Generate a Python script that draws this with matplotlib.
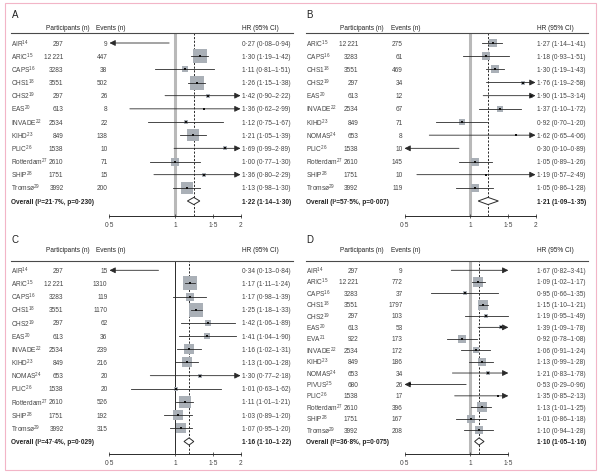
import numpy as np
import matplotlib
matplotlib.use("Agg")
import matplotlib.pyplot as plt
from matplotlib.transforms import blended_transform_factory
from matplotlib.patches import Rectangle
from matplotlib.ticker import NullLocator

# --- DANE ---
refs = {"AIR": 14, "ARIC": 15, "CAPS": 16, "CHS1": 18, "CHS2": 19, "EAS": 20,
        "EVA": 21, "INVADE": 22, "KIHD": 23, "NOMAS": 24, "PIVUS": 25,
        "PLIC": 26, "Rotterdam": 27, "SHIP": 28, "Tromsø": 29}

# A
a_studies = ["AIR", "ARIC", "CAPS", "CHS1", "CHS2", "EAS", "INVADE", "KIHD", "PLIC", "Rotterdam", "SHIP", "Tromsø"]
a_participants = [297, 12221, 3283, 3551, 297, 613, 2534, 849, 1538, 2610, 1751, 3992]
a_events = [9, 447, 38, 502, 26, 8, 22, 138, 10, 71, 15, 200]
a_hr = [0.27, 1.30, 1.11, 1.26, 1.42, 1.36, 1.12, 1.21, 1.69, 1.00, 1.36, 1.13]
a_lo = [0.08, 1.19, 0.81, 1.15, 0.90, 0.62, 0.75, 1.05, 0.99, 0.77, 0.80, 0.98]
a_hi = [0.94, 1.42, 1.51, 1.38, 2.22, 2.99, 1.67, 1.39, 2.89, 1.30, 2.29, 1.30]
a_weight = [0.1, 22, 4.7, 25, 2.1, 0.5, 3.2, 15.7, 2.1, 7.3, 1.6, 15.7]
a_overall = [1.22, 1.14, 1.30]
a_het = [21.7, 0.230]

# B
b_studies = ["ARIC", "CAPS", "CHS1", "CHS2", "EAS", "INVADE", "KIHD", "NOMAS", "PLIC", "Rotterdam", "SHIP", "Tromsø"]
b_participants = [12221, 3283, 3551, 297, 613, 2534, 849, 653, 1538, 2610, 1751, 3992]
b_events = [275, 61, 469, 34, 12, 67, 71, 8, 10, 145, 10, 119]
b_hr = [1.27, 1.18, 1.30, 1.76, 1.90, 1.37, 0.92, 1.62, 0.30, 1.05, 1.19, 1.05]
b_lo = [1.14, 0.93, 1.19, 1.19, 1.15, 1.10, 0.70, 0.65, 0.10, 0.89, 0.57, 0.86]
b_hi = [1.41, 1.51, 1.43, 2.58, 3.14, 1.72, 1.20, 4.06, 0.89, 1.26, 2.49, 1.28]
b_weight = [6.4, 6.4, 6.4, 2.1, 1.8, 4.7, 4.7, 0.4, 0.1, 8.3, 0.4, 8.3]
b_overall = [1.21, 1.09, 1.35]
b_het = [57.5, 0.007]

# C
c_studies = ["AIR", "ARIC", "CAPS", "CHS1", "CHS2", "EAS", "INVADE", "KIHD", "NOMAS", "PLIC", "Rotterdam", "SHIP", "Tromsø"]
c_participants = [297, 12221, 3283, 3551, 297, 613, 2534, 849, 653, 1538, 2610, 1751, 3992]
c_events = [15, 1310, 119, 1170, 62, 36, 239, 216, 20, 20, 526, 192, 315]
c_hr = [0.34, 1.17, 1.17, 1.25, 1.42, 1.41, 1.16, 1.13, 1.30, 1.01, 1.11, 1.03, 1.07]
c_lo = [0.13, 1.11, 0.98, 1.18, 1.06, 1.04, 1.02, 1.00, 0.77, 0.63, 1.01, 0.89, 0.95]
c_hi = [0.84, 1.24, 1.39, 1.33, 1.89, 1.90, 1.31, 1.28, 2.18, 1.62, 1.21, 1.20, 1.20]
c_weight = [0.1, 22, 8.3, 22, 4.7, 3.9, 13, 13, 1.2, 1.2, 15.7, 10.5, 10.5]
c_overall = [1.16, 1.10, 1.22]
c_het = [47.4, 0.029]

# D
d_studies = ["AIR", "ARIC", "CAPS", "CHS1", "CHS2", "EAS", "EVA", "INVADE", "KIHD", "NOMAS", "PIVUS", "PLIC", "Rotterdam", "SHIP", "Tromsø"]
d_participants = [297, 12221, 3283, 3551, 297, 613, 922, 2534, 849, 653, 680, 1538, 2610, 1751, 3992]
d_events = [9, 772, 37, 1797, 103, 53, 173, 172, 186, 34, 26, 17, 396, 167, 208]
d_hr = [1.67, 1.09, 0.95, 1.15, 1.19, 1.39, 0.92, 1.06, 1.13, 1.21, 0.53, 1.35, 1.13, 1.01, 1.10]
d_lo = [0.82, 1.02, 0.66, 1.10, 0.95, 1.09, 0.78, 0.91, 0.99, 0.83, 0.29, 0.85, 1.01, 0.86, 0.94]
d_hi = [3.41, 1.17, 1.35, 1.21, 1.49, 1.78, 1.08, 1.24, 1.28, 1.78, 0.96, 2.13, 1.25, 1.18, 1.28]
d_weight = [0.1, 14.3, 1.2, 14.3, 2.1, 2.1, 6.4, 4.7, 6.4, 1.2, 0.1, 0.5, 10.5, 6.4, 6.4]
d_overall = [1.10, 1.05, 1.16]
d_het = [36.8, 0.075]

# --- KONFIGURACJA ---
W, H = 603, 477
FS = 4.7
TXT = "#444444"
LINE = "#2a2a2a"
BOX = "#aab0b7"
PX_PER_LN = 94.5

plt.rcParams["font.family"] = ["Liberation Sans", "DejaVu Sans"]
plt.rcParams["mathtext.fontset"] = "custom"
plt.rcParams["mathtext.rm"] = "Liberation Sans"


def dot(v, nd=2):
    return f"{v:.{nd}f}".replace(".", "·")


def num(n):
    # odstęp tysięcy tylko dla liczb >= 10 000
    return f"{n:,}".replace(",", "\u2009") if n >= 10000 else str(n)


def fxp(px):
    return px / W


def fyp(py):
    return 1 - py / H


def draw_panel(fig, letter, studies, part, ev, hr, lo, hi, wt, overall, het,
               ox, letter_y, head_y, line_y, axis_y, row0_y, last_y, xclip, thin_ref):
    left, right = ox + 11, ox + 293
    x05 = ox + 109.5
    ax = fig.add_axes([fxp(left), fyp(axis_y), fxp(right - left), (axis_y - line_y) / H])
    ax.set_xscale("log")
    ax.set_xlim(0.5 * np.exp(-(x05 - left) / PX_PER_LN), 0.5 * np.exp((right - x05) / PX_PER_LN))

    n = len(studies) + 1
    step = (last_y - row0_y) / (n - 1)
    ax.set_ylim((axis_y - row0_y) / step, (line_y - row0_y) / step)

    for s in ["left", "right"]:
        ax.spines[s].set_visible(False)
    ax.spines["top"].set_color("#4a4a4a")
    ax.spines["top"].set_linewidth(0.8)
    ax.spines["bottom"].set_color(LINE)
    ax.spines["bottom"].set_linewidth(0.7)
    ticks = [0.5, 1, 1.5, 2] if xclip >= 2 else [0.5, 1, 1.5]
    ax.spines["bottom"].set_bounds(0.5, xclip)
    ax.set_xticks(ticks)
    ax.set_xticklabels([str(int(t)) if t == int(t) else dot(t, 1) for t in ticks])
    ax.xaxis.set_minor_locator(NullLocator())
    ax.set_yticks([])
    ax.tick_params(axis="x", direction="inout", length=3.5, width=0.6, labelsize=FS,
                   pad=2.2, colors=TXT, top=False)

    # linia odniesienia HR=1 i linia wyniku łącznego
    if thin_ref:
        ax.axvline(1, color=LINE, lw=0.7, zorder=1)
    else:
        ax.axvline(1, color="#b9b9b9", lw=2.2, zorder=0)
    ax.axvline(overall[0], color=LINE, lw=0.7, ls=(0, (2.2, 1.6)), zorder=1)

    tf = blended_transform_factory(fig.transFigure, ax.transData)
    for i, name in enumerate(studies):
        label = f"{name}$^{{\\mathregular{{{refs[name]}}}}}$"
        ax.text(fxp(ox + 11), i, label, transform=tf, fontsize=FS, color=TXT, va="center", ha="left")
        ax.text(fxp(ox + 63.5), i, num(part[i]), transform=tf, fontsize=FS, color=TXT, va="center", ha="right")
        ax.text(fxp(ox + 107.5), i, str(ev[i]), transform=tf, fontsize=FS, color=TXT, va="center", ha="right")
        ax.text(fxp(ox + 242), i, f"{dot(hr[i])} ({dot(lo[i])}–{dot(hi[i])})", transform=tf,
                fontsize=FS, color=TXT, va="center", ha="left")

        l, h = max(lo[i], 0.5), min(hi[i], xclip)
        if 0.5 <= hr[i] <= xclip:
            side = 2.78 * np.sqrt(wt[i]) * 72 / 100
            ax.scatter([hr[i]], [i], s=side ** 2, marker="s", color=BOX, lw=0, zorder=2)
            ax.scatter([hr[i]], [i], s=1.2, marker="s", color="#111", lw=0, zorder=4)
        arrow = dict(arrowstyle="-|>,head_length=0.5,head_width=0.25", color=LINE, lw=0.6,
                     shrinkA=0, shrinkB=0, mutation_scale=7)
        if lo[i] < 0.5:
            ax.annotate("", xy=(0.5, i), xytext=(h, i), arrowprops=arrow, zorder=3)
        elif hi[i] > xclip:
            ax.annotate("", xy=(xclip, i), xytext=(l, i), arrowprops=arrow, zorder=3)
        else:
            ax.plot([l, h], [i, i], color=LINE, lw=0.6, zorder=3)

    # wynik łączny
    y = n - 1
    dh = 3.6 / step
    ax.fill([overall[1], overall[0], overall[2], overall[0]], [y, y - dh, y, y + dh],
            facecolor="white", edgecolor=LINE, lw=0.7, zorder=3)
    ax.text(fxp(ox + 11), y, f"Overall (I²={dot(het[0], 1)}%, p={dot(het[1], 3)})", transform=tf,
            fontsize=FS, color="#222", va="center", ha="left", fontweight="bold")
    ax.text(fxp(ox + 242), y, f"{dot(overall[0])} ({dot(overall[1])}–{dot(overall[2])})",
            transform=tf, fontsize=FS, color="#222", va="center", ha="left", fontweight="bold")

    # nagłówki
    fig.text(fxp(ox + 11.5), fyp(letter_y), letter, fontsize=7, color="#222", va="center", ha="left")
    fig.text(fxp(ox + 45.5), fyp(head_y), "Participants (n)", fontsize=FS, color="#222", va="center")
    fig.text(fxp(ox + 96), fyp(head_y), "Events (n)", fontsize=FS, color="#222", va="center")
    fig.text(fxp(ox + 242), fyp(head_y), "HR (95% CI)", fontsize=FS, color="#222", va="center")


def main():
    fig = plt.figure(figsize=(W / 100, H / 100), dpi=100)
    fig.patch.set_facecolor("white")

    top = dict(letter_y=15, head_y=28, line_y=34.3, axis_y=217, row0_y=44, last_y=202)
    bot = dict(letter_y=240, head_y=251, line_y=261.7, axis_y=455, row0_y=271.3, last_y=442.5)

    draw_panel(fig, "A", a_studies, a_participants, a_events, a_hr, a_lo, a_hi, a_weight,
               a_overall, a_het, ox=0, xclip=2, thin_ref=False, **top)
    draw_panel(fig, "B", b_studies, b_participants, b_events, b_hr, b_lo, b_hi, b_weight,
               b_overall, b_het, ox=295, xclip=2, thin_ref=False, **top)
    draw_panel(fig, "C", c_studies, c_participants, c_events, c_hr, c_lo, c_hi, c_weight,
               c_overall, c_het, ox=0, xclip=2, thin_ref=True, **bot)
    draw_panel(fig, "D", d_studies, d_participants, d_events, d_hr, d_lo, d_hi, d_weight,
               d_overall, d_het, ox=295, xclip=1.5, thin_ref=False, **bot)

    # różowa ramka
    fig.add_artist(Rectangle((fxp(5), fyp(471)), fxp(591), 467 / H, transform=fig.transFigure,
                             fill=False, edgecolor="#f2b5c7", lw=0.8))

    fig.savefig("out.png", dpi=100)


if __name__ == "__main__":
    main()
